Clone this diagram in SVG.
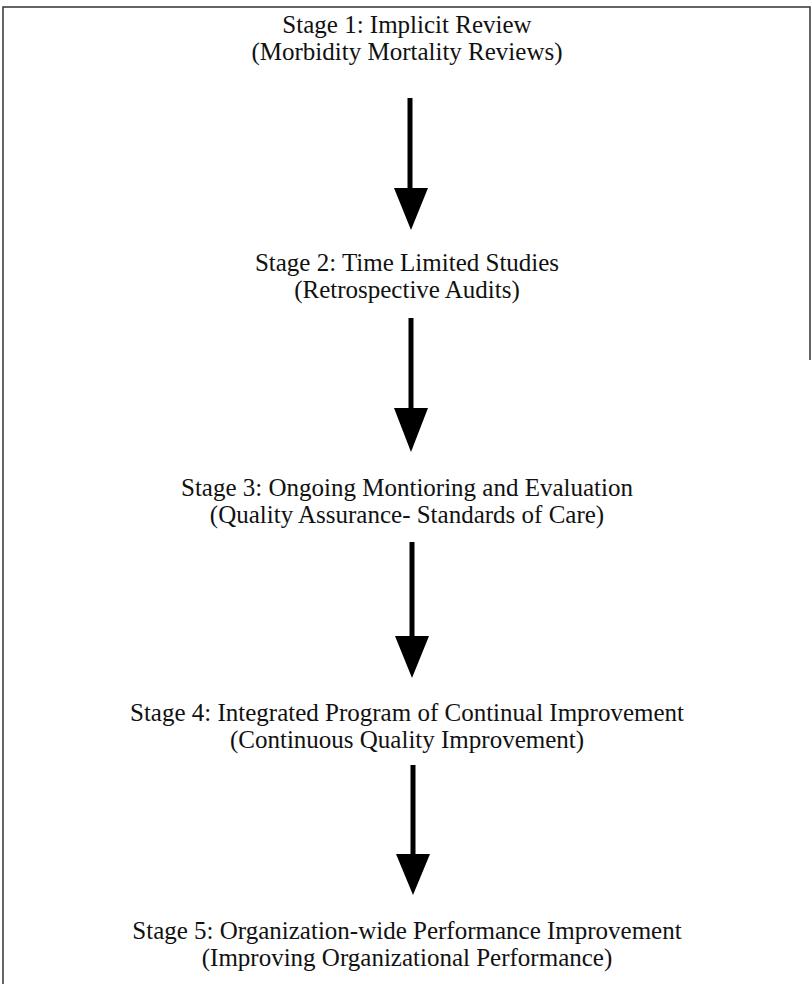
<svg xmlns="http://www.w3.org/2000/svg" width="811" height="984" viewBox="0 0 811 984">
<style>
.t{font-family:"Liberation Serif","Times New Roman",serif;font-size:25px;fill:#111;text-anchor:middle}
.shaft{stroke:#000;stroke-width:5;fill:none}
.head{fill:#000}
.frame{fill:none;stroke:#333;stroke-width:1.5}
</style>
<rect width="811" height="984" fill="#fff"/>
<path class="frame" d="M3,990 L3,7 L810,7 L810,360"/>
<g id="stage1"><text class="t" x="407" y="33">Stage 1: Implicit Review</text><text class="t" x="407" y="60">(Morbidity Mortality Reviews)</text></g>
<g id="stage2"><text class="t" x="407" y="271">Stage 2: Time Limited Studies</text><text class="t" x="407" y="298">(Retrospective Audits)</text></g>
<g id="stage3"><text class="t" x="407" y="496">Stage 3: Ongoing Montioring and Evaluation</text><text class="t" x="407" y="523">(Quality Assurance- Standards of Care)</text></g>
<g id="stage4"><text class="t" x="407" y="721">Stage 4: Integrated Program of Continual Improvement</text><text class="t" x="407" y="748">(Continuous Quality Improvement)</text></g>
<g id="stage5"><text class="t" x="407" y="939">Stage 5: Organization-wide Performance Improvement</text><text class="t" x="407" y="966">(Improving Organizational Performance)</text></g>
<g id="connectors">
<line class="shaft" x1="410" y1="98" x2="410" y2="192"/><polygon class="head" points="394,188 428,188 411,230"/>
<line class="shaft" x1="411" y1="318" x2="411" y2="412"/><polygon class="head" points="394,408 428,408 411,452"/>
<line class="shaft" x1="412" y1="542" x2="412" y2="640"/><polygon class="head" points="395,636 429,636 412,678"/>
<line class="shaft" x1="413" y1="765" x2="413" y2="858"/><polygon class="head" points="396,854 430,854 413,895"/>
</g>
</svg>
